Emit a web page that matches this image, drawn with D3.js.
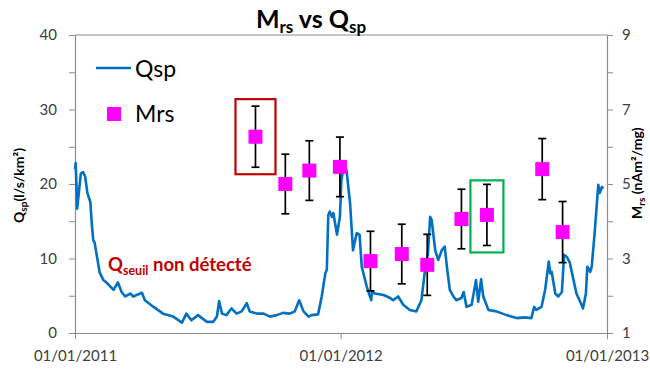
<!DOCTYPE html>
<html><head><meta charset="utf-8">
<script src="https://cdn.jsdelivr.net/npm/d3@7"></script>
<style>
html,body{margin:0;padding:0;background:#fff;}
svg{display:block;font-family:Lato,"Open Sans",sans-serif;}
</style></head><body>
<svg id="c" width="650" height="372"></svg>
<script>
// ---- data ----
const baseDate = "2011-01-01";
const xTickLabels = ["01/01/2011", "01/01/2012", "01/01/2013"];
const leftTicks = [0, 5, 10, 15, 20, 25, 30, 35, 40];
const rightTicks = [1, 2, 3, 4, 5, 6, 7, 8, 9];
// Qsp (l/s/km2): day offset from 01/01/2011 and value
const qspDay = [0,1,3,8,11,14,17,21,23,25,27,31,34,39,44,53,59,64,69,76,80,92,96,108,121,135,147,153,160,169,181,190,195,198,202,208,215,222,229,236,240,250,259,268,277,286,295,302,308,314,321,325,334,339,344,346,348,350,353,355,360,364,366,369,373,378,382,387,391,394,401,407,408,412,424,433,437,444,451,460,469,476,481,485,488,490,495,499,504,508,511,515,520,524,531,534,538,545,551,554,558,561,568,579,593,607,618,627,631,634,641,646,651,653,655,660,664,669,672,676,680,685,689,696,698,702,704,708,710,714,719,721,724,726];
const qspVal = [22.0,22.8,16.7,21.4,21.6,21.0,18.8,17.6,14.8,12.5,12.1,9.8,8.1,7.1,6.7,5.8,6.8,5.5,4.9,5.3,4.9,5.4,4.4,3.5,2.6,2.2,1.4,2.6,1.7,2.4,1.5,1.5,2.2,4.3,2.6,2.4,3.3,2.6,2.9,4.0,2.9,2.6,2.6,2.2,2.4,2.7,2.6,2.9,4.4,2.9,2.2,2.4,2.5,4.9,8.0,8.5,15.8,16.3,15.6,16.1,13.2,15.6,20.5,22.3,21.9,17.4,11.1,13.4,13.2,8.9,6.2,4.4,5.5,5.3,5.1,4.7,4.4,4.9,3.8,3.1,2.9,4.4,8.5,10.7,15.6,15.2,11.1,9.8,11.1,11.6,8.9,5.8,4.9,4.4,4.7,5.5,3.5,3.8,7.1,4.2,7.2,4.9,3.1,2.9,2.4,2.0,2.1,2.0,3.5,3.1,3.5,5.8,9.6,8.0,8.2,5.3,4.9,5.5,10.5,10.2,9.4,7.1,5.3,3.8,3.3,5.3,8.9,8.2,8.9,13.4,19.9,18.8,19.6,19.4];
// Mrs (nAm2/mg) samples
const mrsDate = ["2011-09-06","2011-10-17","2011-11-19","2011-12-31","2012-02-11","2012-03-25","2012-04-29","2012-06-15","2012-07-20","2012-10-04","2012-11-01"];
const mrsVal = [6.27,5.00,5.36,5.46,2.93,3.12,2.83,4.06,4.17,5.40,3.71];
const mrsErr = [0.82,0.80,0.80,0.80,0.80,0.80,0.82,0.80,0.82,0.82,0.82];
// highlighted samples: index and colour role
const boxIdx = [0, 8];

// ---- drawing ----
const svg = d3.select("#c");
const parse = d3.utcParse("%Y-%m-%d");
const base = parse(baseDate);
const x = d3.scaleUtc().domain([parse("2011-01-01"), parse("2013-01-01")]).range([75, 607]);
const yL = d3.scaleLinear().domain([0, 40]).range([333, 35]);
const yR = d3.scaleLinear().domain([1, 9]).range([333, 35]);
const axisCol = "#8c8c8c", txtCol = "#404040";

// frame top line
svg.append("line").attr("x1", 75).attr("x2", 607).attr("y1", yL(40)).attr("y2", yL(40))
  .attr("stroke", axisCol).attr("stroke-width", 1);

function styleAxis(g) {
  g.select(".domain").attr("stroke", axisCol).attr("stroke-width", 1.2);
  g.selectAll(".tick line").attr("stroke", axisCol);
  g.selectAll(".tick text").attr("fill", txtCol).attr("font-size", 15).attr("font-family", "Lato,sans-serif");
}
const gL = svg.append("g").attr("transform", "translate(75,0)")
  .call(d3.axisLeft(yL).tickValues(leftTicks).tickSize(6).tickSizeOuter(0).tickPadding(12)
    .tickFormat(d => d % 10 === 0 ? d : ""));
styleAxis(gL);
const gR = svg.append("g").attr("transform", "translate(607,0)")
  .call(d3.axisRight(yR).tickValues(rightTicks).tickSize(6).tickSizeOuter(0).tickPadding(9)
    .tickFormat(d => d % 2 === 1 ? d : ""));
styleAxis(gR);
const xTickDates = xTickLabels.map(s => d3.utcParse("%d/%m/%Y")(s));
const gB = svg.append("g").attr("transform", "translate(0,333)")
  .call(d3.axisBottom(x).tickValues(xTickDates).tickSize(6).tickSizeOuter(0).tickPadding(11)
    .tickFormat(d3.utcFormat("%d/%m/%Y")));
styleAxis(gB);

// Qsp line
const qData = qspDay.map((d, i) => ({ date: d3.utcDay.offset(base, d), v: qspVal[i] }));
svg.append("path").datum(qData)
  .attr("fill", "none").attr("stroke", "#0070C0").attr("stroke-width", 2.6).attr("stroke-linejoin", "round")
  .attr("d", d3.line().x(d => x(d.date)).y(d => yL(d.v)));

// Mrs points with error bars
const mData = mrsDate.map((d, i) => ({ date: parse(d), v: mrsVal[i], e: mrsErr[i] }));
const eb = svg.append("g").attr("stroke", "#000").attr("stroke-width", 1.7);
mData.forEach(d => {
  const cx = x(d.date);
  eb.append("line").attr("x1", cx).attr("x2", cx).attr("y1", yR(d.v + d.e)).attr("y2", yR(d.v - d.e));
  eb.append("line").attr("x1", cx - 4).attr("x2", cx + 4).attr("y1", yR(d.v + d.e)).attr("y2", yR(d.v + d.e));
  eb.append("line").attr("x1", cx - 4).attr("x2", cx + 4).attr("y1", yR(d.v - d.e)).attr("y2", yR(d.v - d.e));
});
svg.append("g").selectAll("rect").data(mData).join("rect")
  .attr("x", d => x(d.date) - 7).attr("y", d => yR(d.v) - 7)
  .attr("width", 14).attr("height", 14).attr("fill", "#FF00FF");

// highlight boxes
const boxCols = ["#C00000", "#00B050"];
boxIdx.forEach((idx, k) => {
  const d = mData[idx];
  const cx = x(d.date);
  const top = yR(d.v + d.e) - (k === 0 ? 7 : 4);
  const bot = yR(d.v - d.e) + 7;
  const hw = k === 0 ? 20 : 16.5;
  svg.append("rect").attr("x", cx - hw).attr("y", top).attr("width", hw * 2).attr("height", bot - top)
    .attr("fill", "none").attr("stroke", boxCols[k]).attr("stroke-width", 2.2);
});

// title
const t = svg.append("text").attr("x", 311).attr("y", 28).attr("text-anchor", "middle")
  .attr("font-size", 25).attr("font-weight", "bold").attr("fill", "#000");
t.append("tspan").text("M");
t.append("tspan").attr("font-size", 17).attr("dy", 5).text("rs");
t.append("tspan").attr("dy", -5).text(" vs Q");
t.append("tspan").attr("font-size", 17).attr("dy", 5).text("sp");

// legend
svg.append("line").attr("x1", 96).attr("x2", 131).attr("y1", 68).attr("y2", 68)
  .attr("stroke", "#0070C0").attr("stroke-width", 2.6);
svg.append("text").attr("x", 135).attr("y", 77).attr("font-size", 23).attr("fill", "#000").text("Qsp");
svg.append("rect").attr("x", 107).attr("y", 107).attr("width", 14).attr("height", 14).attr("fill", "#FF00FF");
svg.append("text").attr("x", 135).attr("y", 122).attr("font-size", 23).attr("fill", "#000").text("Mrs");

// annotation
const an = svg.append("text").attr("x", 108).attr("y", 271).attr("font-size", 18.5).attr("font-weight", "bold").attr("fill", "#C00000");
an.append("tspan").text("Q");
an.append("tspan").attr("font-size", 12.5).attr("dy", 4).text("seuil");
an.append("tspan").attr("dy", -4).text(" non détecté");

// axis titles
const lt = svg.append("text").attr("transform", "translate(24,223) rotate(-90)")
  .attr("font-size", 14).attr("font-weight", "bold").attr("fill", "#000");
lt.append("tspan").text("Q");
lt.append("tspan").attr("font-size", 10).attr("dy", 3).text("sp");
lt.append("tspan").attr("dy", -3).text("(l/s/km²)");
const rt = svg.append("text").attr("transform", "translate(642,219) rotate(-90)")
  .attr("font-size", 14).attr("font-weight", "bold").attr("fill", "#000");
rt.append("tspan").text("M");
rt.append("tspan").attr("font-size", 10).attr("dy", 3).text("rs");
rt.append("tspan").attr("dy", -3).text(" (nAm²/mg)");
</script>
</body></html>
